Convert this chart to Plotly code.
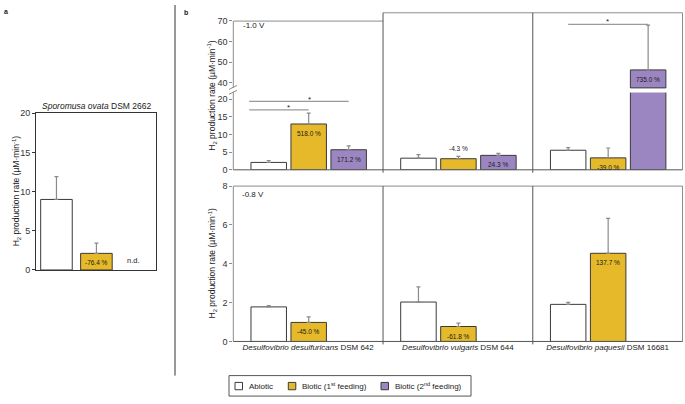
import plotly.graph_objects as go

# ---------------- data ----------------
strain_a = ["Sporomusa ovata DSM 2662"]
abiotic_a = [9.0]
abiotic_a_err = [2.9]
biotic1_a = [2.12]
biotic1_a_err = [1.3]
pct_a = ["-76.4 %"]

strains_b = ["Desulfovibrio desulfuricans DSM 642",
             "Desulfovibrio vulgaris DSM 644",
             "Desulfovibrio paquesii DSM 16681"]
strain_ticks_b = ["<i>Desulfovibrio desulfuricans</i> DSM 642",
                  "<i>Desulfovibrio vulgaris</i> DSM 644",
                  "<i>Desulfovibrio paquesii</i> DSM 16681"]

# -1.0 V
abiotic_10 = [2.1, 3.3, 5.55]
abiotic_10_err = [0.55, 1.0, 0.75]
biotic1_10 = [13.0, 3.15, 3.39]
biotic1_10_err = [3.1, 0.65, 2.8]
biotic2_10 = [5.7, 4.1, 46.3]
biotic2_10_err = [1.1, 0.55, 21.6]
pct1_10 = ["518.0 %", "-4.3 %", "-39.0 %"]
pct2_10 = ["171.2 %", "24.3 %", "735.0 %"]

# -0.8 V
abiotic_08 = [1.78, 2.03, 1.91]
abiotic_08_err = [0.06, 0.78, 0.1]
biotic1_08 = [0.98, 0.77, 4.54]
biotic1_08_err = [0.29, 0.17, 1.8]
pct1_08 = ["-45.0 %", "-61.8 %", "137.7 %"]

series_names = ["Abiotic", "Biotic (1<sup>st</sup> feeding)", "Biotic (2<sup>nd</sup> feeding)"]

# ---------------- style ----------------
W, H = 685, 404
FONT = "Liberation Sans, Arial, sans-serif"
TXT = "#1a1a1a"
C_WHITE = "#ffffff"
C_YELLOW = "#E5B929"
C_PURPLE = "#9C86C1"
EDGE = "#3a3a3a"
ERRC = "#8a8a8a"
FRAME = "#555555"
GRAYLINE = "#8c8c8c"
colors = [C_WHITE, C_YELLOW, C_PURPLE]


def px(x):
    return x / W


def py(y):
    return 1 - y / H


# bar geometry (category units)
BW_B = 0.237
OFFS_B = [-0.382, -0.115, 0.152]
BW_A = 0.263
OFFS_A = [-0.461, -0.128]

fig = go.Figure()


def add_bar(x, y, err, color, offset, width, xa, ya):
    fig.add_trace(go.Bar(
        x=x, y=y, offset=offset, width=width, xaxis=xa, yaxis=ya,
        marker=dict(color=color, line=dict(color=EDGE, width=1)),
        error_y=dict(type="data", array=err, arrayminus=[0] * len(err),
                     symmetric=False, color=ERRC, thickness=1.2, width=2),
        showlegend=False, hoverinfo="skip"))


# panel a
add_bar(strain_a, abiotic_a, abiotic_a_err, C_WHITE, OFFS_A[0], BW_A, "x", "y")
add_bar(strain_a, biotic1_a, biotic1_a_err, C_YELLOW, OFFS_A[1], BW_A, "x", "y")

# panel b top (lower segment y2, upper segment y3)
for ya in ["y2", "y3"]:
    add_bar(strains_b, abiotic_10, abiotic_10_err, C_WHITE, OFFS_B[0], BW_B, "x2", ya)
    add_bar(strains_b, biotic1_10, biotic1_10_err, C_YELLOW, OFFS_B[1], BW_B, "x2", ya)
    add_bar(strains_b, biotic2_10, biotic2_10_err, C_PURPLE, OFFS_B[2], BW_B, "x2", ya)

# panel b bottom
add_bar(strains_b, abiotic_08, abiotic_08_err, C_WHITE, OFFS_B[0], BW_B, "x3", "y4")
add_bar(strains_b, biotic1_08, biotic1_08_err, C_YELLOW, OFFS_B[1], BW_B, "x3", "y4")

tickfont = dict(family=FONT, size=9, color="#333333")
yax_common = dict(ticks="outside", ticklen=3, tickcolor=GRAYLINE, tickfont=tickfont,
                  showgrid=False, zeroline=False, showline=False)

# scales of panel b top row
LOW_TOP = 22.05
UP_BOT, UP_TOP = 37.6, 73.9

fig.update_layout(
    width=W, height=H, margin=dict(l=0, r=0, t=0, b=0), autosize=False,
    paper_bgcolor="white", plot_bgcolor="white", barmode="overlay",
    font=dict(family=FONT, size=9, color=TXT),
    xaxis=dict(domain=[px(36), px(156)], anchor="y", type="category", range=[-0.5, 0.5],
               showticklabels=False, ticks="", showgrid=False, zeroline=False,
               showline=True, linecolor="#333333", linewidth=1, mirror=True),
    yaxis=dict(domain=[py(271.7), py(111)], anchor="x", range=[0, 20], tickvals=[0, 5, 10, 15, 20],
               ticks="outside", ticklen=3, tickcolor="#333333", tickfont=tickfont,
               showgrid=False, zeroline=False, showline=True, linecolor="#333333",
               linewidth=1, mirror=True),
    xaxis2=dict(domain=[px(233.3), px(682.5)], anchor="y2", type="category",
                categoryorder="array", categoryarray=strains_b, range=[-0.5, 2.5],
                showticklabels=False, ticks="", showgrid=False, zeroline=False, showline=False),
    yaxis2=dict(domain=[py(169), py(89.3)], anchor="x2", range=[0, LOW_TOP],
                tickvals=[0, 5, 10, 15, 20], **yax_common),
    yaxis3=dict(domain=[py(85), py(8)], anchor="x2", range=[UP_BOT, UP_TOP],
                tickvals=[40, 50, 60, 70], **yax_common),
    xaxis3=dict(domain=[px(233.3), px(682.5)], anchor="y4", type="category",
                categoryorder="array", categoryarray=strains_b, range=[-0.5, 2.5],
                tickvals=strains_b, ticktext=strain_ticks_b, ticks="",
                tickfont=dict(family=FONT, size=8, color=TXT),
                showgrid=False, zeroline=False, showline=False),
    yaxis4=dict(domain=[py(345), py(185.7)], anchor="x3", range=[0, 8],
                tickvals=[0, 2, 4, 6, 8], **yax_common),
)

shapes = []


def pline(x0, y0, x1, y1, color=FRAME, width=1):
    shapes.append(dict(type="line", xref="paper", yref="paper",
                       x0=px(x0), y0=py(y0), x1=px(x1), y1=py(y1),
                       line=dict(color=color, width=width)))


XL, XR = 233.3, 682.5
SEP1, SEP2 = XL + (XR - XL) / 3, XL + 2 * (XR - XL) / 3
# top row frame
pline(XL, 16.5, XL, 85, GRAYLINE)
pline(XL, 89.3, XL, 169, GRAYLINE)
pline(XL, 16.5, SEP1, 16.5, GRAYLINE)
pline(SEP1, 8, XR, 8, GRAYLINE)
pline(XR, 8, XR, 169, GRAYLINE)
pline(XL, 169, XR, 169, FRAME)
pline(SEP1, 8, SEP1, 172, FRAME)
pline(SEP2, 8, SEP2, 172, FRAME)
# break marks
pline(229, 86.5, 237, 82.5, GRAYLINE)
pline(229, 91.5, 237, 87.5, GRAYLINE)
# bottom row frame
pline(XL, 185.7, XR, 185.7, GRAYLINE)
pline(XL, 185.7, XL, 345, GRAYLINE)
pline(XR, 185.7, XR, 345, GRAYLINE)
pline(XL, 345, XR, 345, FRAME)
pline(SEP1, 185.7, SEP1, 348, FRAME)
pline(SEP2, 185.7, SEP2, 348, FRAME)
# panel separator
pline(175, 0, 175, 380, "#333333")

# white gap where the broken bar crosses the axis break
bx0 = 2 + OFFS_B[2]
bx1 = bx0 + BW_B
shapes.append(dict(type="rect", xref="x2", yref="paper", x0=bx0 - 0.01, x1=bx1 + 0.01,
                   y0=py(89.6), y1=py(85.2), line=dict(width=0), fillcolor="white"))
shapes.append(dict(type="line", xref="x2", yref="paper", x0=bx0, x1=bx1,
                   y0=py(85), y1=py(85), line=dict(color=EDGE, width=1)))

# significance lines (data coords)
def dline(x0, x1, y, ya):
    shapes.append(dict(type="line", xref="x2", yref=ya, x0=x0, x1=x1, y0=y, y1=y,
                       line=dict(color="#9a9a9a", width=1.2)))


c_white0 = 0 + OFFS_B[0] - 0.012
dline(c_white0, 0 + OFFS_B[1] + BW_B / 2, 17.0, "y2")
dline(c_white0, 0 + OFFS_B[2] + BW_B / 2, 19.4, "y2")
dline(2 + OFFS_B[0] + BW_B / 2, 2 + OFFS_B[2] + BW_B / 2, 68.3, "y3")

# legend (drawn)
shapes.append(dict(type="rect", xref="paper", yref="paper", x0=px(229), x1=px(471),
                   y0=py(401), y1=py(380), line=dict(color="#555555", width=1),
                   fillcolor="white"))
leg_sq_x = [235, 288.3, 381]
for c, xs in zip(colors, leg_sq_x):
    shapes.append(dict(type="rect", xref="paper", yref="paper", x0=px(xs), x1=px(xs + 7.5),
                       y0=py(394.5), y1=py(387), line=dict(color=EDGE, width=1), fillcolor=c))

annotations = []


def pann(x, y, text, size=9, xanchor="left", yanchor="middle", angle=0, **kw):
    annotations.append(dict(xref="paper", yref="paper", x=px(x), y=py(y), text=text,
                            showarrow=False, xanchor=xanchor, yanchor=yanchor,
                            textangle=angle, font=dict(family=FONT, size=size, color=TXT),
                            **kw))


for xs, name in zip(leg_sq_x, series_names):
    pann(xs + 11.5, 390.8, name, size=8)

pann(2, 7, "<b>a</b>", size=7)
pann(182, 8, "<b>b</b>", size=7)
pann(96, 104, "<i>Sporomusa ovata</i> DSM 2662", size=8.5, xanchor="center")
ytitle = "H<sub>2</sub> production rate (µM·min<sup>-1</sup>)"
pann(16, 191, ytitle, size=8.5, xanchor="center", angle=-90)
pann(212, 93, ytitle, size=8.5, xanchor="center", angle=-90)
pann(212, 265, ytitle, size=8.5, xanchor="center", angle=-90)
pann(241, 21, "-1.0 V", size=8)
pann(240, 194.5, "-0.8 V", size=8)

# stars
pann(288.3, 105.5, "*", size=8, xanchor="center")
pann(309.3, 96.5, "*", size=8, xanchor="center")
pann(607, 17, "*", size=8, xanchor="center")


def bar_label(xa, ya, xpos, val, text, above=False):
    annotations.append(dict(xref=xa, yref=ya, x=xpos, y=val, text=text, showarrow=False,
                            xanchor="center", yanchor="bottom" if above else "top",
                            yshift=2 if above else -4,
                            font=dict(family=FONT, size=6.5, color=TXT)))


# panel a labels
bar_label("x", "y", OFFS_A[1] + BW_A / 2, biotic1_a[0], pct_a[0])
annotations.append(dict(xref="x", yref="y", x=0.31, y=0, text="n.d.", showarrow=False,
                        xanchor="center", yanchor="bottom", yshift=3,
                        font=dict(family=FONT, size=7.5, color=TXT)))

# panel b labels
for i in range(3):
    xb1 = i + OFFS_B[1] + BW_B / 2
    xb2 = i + OFFS_B[2] + BW_B / 2
    if i == 1:
        bar_label("x2", "y2", xb1, biotic1_10[i] + biotic1_10_err[i], pct1_10[i], above=True)
    else:
        bar_label("x2", "y2", xb1, biotic1_10[i], pct1_10[i])
    ya2 = "y3" if biotic2_10[i] > LOW_TOP else "y2"
    bar_label("x2", ya2, xb2, biotic2_10[i], pct2_10[i])
    bar_label("x3", "y4", xb1, biotic1_08[i], pct1_08[i])

fig.update_layout(shapes=shapes, annotations=annotations)
fig.write_html("out.html", config={"displayModeBar": False},
               post_script="document.body.style.margin='0';document.body.style.overflow='hidden';")
